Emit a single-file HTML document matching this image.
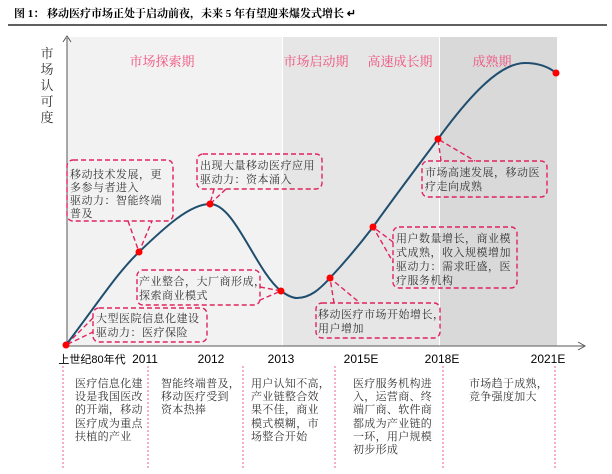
<!DOCTYPE html>
<html><head><meta charset="utf-8"><style>
body{margin:0;background:#fff;}
svg{display:block;font-family:"Liberation Serif","Noto Serif CJK SC",serif;}
</style></head><body>
<svg width="612" height="474" viewBox="0 0 612 474" xmlns="http://www.w3.org/2000/svg">
<text x="14" y="17" font-size="11" font-weight="bold" fill="#000">图 1：  移动医疗市场正处于启动前夜，未来 5 年有望迎来爆发式增长 ↵</text>
<line x1="8" y1="25" x2="607" y2="25" stroke="#000" stroke-width="1.2"/>
<rect x="67" y="37" width="215" height="309" fill="#f2f2f2"/>
<rect x="283" y="37" width="156" height="309" fill="#e6e6e6"/>
<rect x="440" y="37" width="117" height="309" fill="#d9d9d9"/>
<g font-size="13" fill="#f0507a" text-anchor="middle">
<text x="162" y="66">市场探索期</text>
<text x="316" y="66">市场启动期</text>
<text x="400" y="66">高速成长期</text>
<text x="492" y="66">成熟期</text>
</g>
<g font-size="13" fill="#333" text-anchor="middle">
<text x="47" y="58">市</text><text x="47" y="74">场</text><text x="47" y="90">认</text><text x="47" y="106">可</text><text x="47" y="122">度</text>
</g>
<line x1="67" y1="346" x2="67" y2="38" stroke="#555" stroke-width="1"/>
<path d="M63,42 L67,36 L71,42" fill="none" stroke="#555"/>
<line x1="67" y1="346" x2="585" y2="346" stroke="#777" stroke-width="1.2"/>
<path d="M578,342 L585,346 L578,350" fill="none" stroke="#555"/>
<g fill="none" stroke="#e0245e" stroke-width="1.4" stroke-dasharray="5,3">
<rect x="67" y="160" width="106" height="61" rx="6"/>
<path d="M128,221 L139,252 L152,221"/>
<rect x="197" y="154" width="125" height="35" rx="6"/>
<path d="M214,189 L210,204 L226,189"/>
<rect x="137" y="270" width="123" height="35" rx="6"/>
<path d="M260,287 L281,291 L260,300"/>
<rect x="93" y="308" width="114" height="34" rx="6"/>
<path d="M93,318 L66,345 L93,332"/>
<rect x="316" y="303" width="124" height="35" rx="6"/>
<path d="M334,303 L330,278 L360,303"/>
<rect x="393" y="227" width="124" height="61" rx="6"/>
<path d="M393,242 L373,227 L393,262"/>
<rect x="422" y="161" width="125" height="36" rx="6"/>
<path d="M441,161 L438,139 L475,161"/>
</g>
<path d="M66,345 C100,300 118,272 139,252 C165,227 190,204 210,204 C235,204 255,270 281,291 C288,296 293,298 297,298 C310,298 320,289 330,278 C345,262 360,244 373,227 C395,196 420,163 438,139 C470,95 500,63 525,63 C540,63 550,68 556,73" fill="none" stroke="#1f4e6e" stroke-width="2"/>
<g fill="#ff0000">
<circle cx="66" cy="345" r="3.5"/><circle cx="139" cy="252" r="3.5"/><circle cx="210" cy="204" r="3.5"/>
<circle cx="281" cy="291" r="3.5"/><circle cx="330" cy="278" r="3.5"/><circle cx="373" cy="227" r="3.5"/>
<circle cx="438" cy="139" r="3.5"/><circle cx="556" cy="73" r="3.5"/>
</g>
<g font-size="11" fill="#333" letter-spacing="0.5">
<text x="70" y="178">移动技术发展，更</text><text x="70" y="191">多参与者进入</text><text x="70" y="204">驱动力：智能终端</text><text x="70" y="217">普及</text>
<text x="200" y="169">出现大量移动医疗应用</text><text x="200" y="183">驱动力：资本涌入</text>
<text x="139" y="285">产业整合，大厂商形成，</text><text x="139" y="299">探索商业模式</text>
<text x="96" y="322">大型医院信息化建设</text><text x="96" y="336">驱动力：医疗保险</text>
<text x="318" y="318">移动医疗市场开始增长，</text><text x="318" y="332">用户增加</text>
<text x="396" y="242">用户数量增长，商业模</text><text x="396" y="256">式成熟，收入规模增加</text><text x="396" y="270">驱动力：需求旺盛，医</text><text x="396" y="284">疗服务机构</text>
<text x="425" y="176">市场高速发展，移动医</text><text x="425" y="190">疗走向成熟</text>
</g>
<g font-size="12" fill="#000" text-anchor="middle" font-family="Liberation Sans, Noto Sans CJK SC, sans-serif">
<text x="92" y="363" font-size="11">上世纪80年代</text>
<text x="145" y="363">2011</text><text x="211" y="363">2012</text><text x="281" y="363">2013</text>
<text x="361" y="363">2015E</text><text x="442" y="363">2018E</text><text x="548" y="363">2021E</text>
</g>
<g stroke="#f06080" stroke-width="1" stroke-dasharray="2,2">
<line x1="63" y1="366" x2="63" y2="470"/><line x1="148" y1="366" x2="148" y2="470"/>
<line x1="243" y1="366" x2="243" y2="470"/><line x1="335" y1="366" x2="335" y2="470"/>
<line x1="443" y1="366" x2="443" y2="470"/><line x1="555" y1="366" x2="555" y2="470"/>
</g>
<g font-size="11" fill="#333" letter-spacing="0.3">
<text x="75" y="387">医疗信息化建</text><text x="75" y="400">设是我国医改</text><text x="75" y="413">的开端，移动</text><text x="75" y="427">医疗成为重点</text><text x="75" y="440">扶植的产业</text>
<text x="161" y="387">智能终端普及，</text><text x="161" y="400">移动医疗受到</text><text x="161" y="413">资本热捧</text>
<text x="251" y="387">用户认知不高，</text><text x="251" y="400">产业链整合效</text><text x="251" y="413">果不佳，商业</text><text x="251" y="427">模式模糊，市</text><text x="251" y="440">场整合开始</text>
<text x="353" y="387">医疗服务机构进</text><text x="353" y="400">入，运营商、终</text><text x="353" y="413">端厂商、软件商</text><text x="353" y="427">都成为产业链的</text><text x="353" y="440">一环，用户规模</text><text x="353" y="453">初步形成</text>
<text x="469" y="387">市场趋于成熟，</text><text x="469" y="400">竞争强度加大</text>
</g>
</svg>
</body></html>
